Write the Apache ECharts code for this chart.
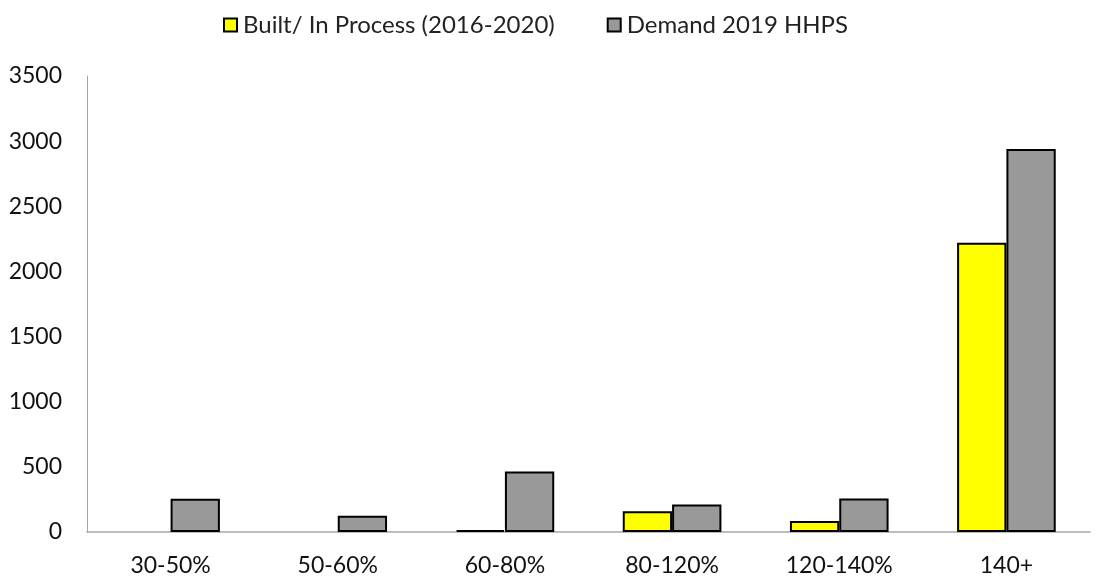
<!DOCTYPE html>
<html>
<head>
<meta charset="utf-8">
<script src="https://cdn.jsdelivr.net/npm/echarts@6/dist/echarts.min.js"></script>
<style>
  html, body { margin: 0; padding: 0; background: #fff; }
  #main { width: 1099px; height: 580px; }
</style>
</head>
<body>
<div id="main"></div>
<script>
  // data (null = no bar drawn)
  var categories = ['30-50%', '50-60%', '60-80%', '80-120%', '120-140%', '140+'];
  var builtValues = [null, null, 15, 160, 85, 2220];
  var demandValues = [255, 125, 465, 212, 258, 2940];
  var yTicks = [0, 500, 1000, 1500, 2000, 2500, 3000, 3500];

  var font = 'Lato, "Liberation Sans", sans-serif';
  var myChart = echarts.init(document.getElementById('main'));
  var option = {
    animation: false,
    textStyle: { fontFamily: font },
    legend: {
      top: 8,
      left: 218,
      itemWidth: 13,
      itemHeight: 13,
      itemGap: 52,
      icon: 'rect',
      textStyle: { fontSize: 24, color: '#222', fontFamily: font, padding: [0, 0, 0, 1] },
      data: ['Built/ In Process (2016-2020)', 'Demand 2019 HHPS']
    },
    grid: { left: 87, right: 9, top: 76, bottom: 48 },
    xAxis: {
      type: 'category',
      data: categories,
      axisLine: { lineStyle: { color: '#a6a6a6', width: 1.5 } },
      axisTick: { show: false },
      axisLabel: { fontSize: 23, color: '#111', margin: 22, fontFamily: font }
    },
    yAxis: {
      type: 'value',
      min: yTicks[0],
      max: yTicks[yTicks.length - 1],
      interval: 500,
      splitLine: { show: false },
      axisLine: { show: true, lineStyle: { color: '#a6a6a6', width: 1 } },
      axisTick: { show: false },
      axisLabel: {
        fontSize: 23, color: '#111', margin: 25, fontFamily: font,
        formatter: function (v) { return String(v); }
      }
    },
    series: [
      {
        name: 'Built/ In Process (2016-2020)',
        type: 'bar',
        data: builtValues,
        barGap: '0%',
        barCategoryGap: '41%',
        itemStyle: { color: '#ffff00', borderColor: '#000', borderWidth: 2 }
      },
      {
        name: 'Demand 2019 HHPS',
        type: 'bar',
        data: demandValues,
        itemStyle: { color: '#999999', borderColor: '#000', borderWidth: 2 }
      }
    ]
  };
  myChart.setOption(option);
</script>
</body>
</html>
